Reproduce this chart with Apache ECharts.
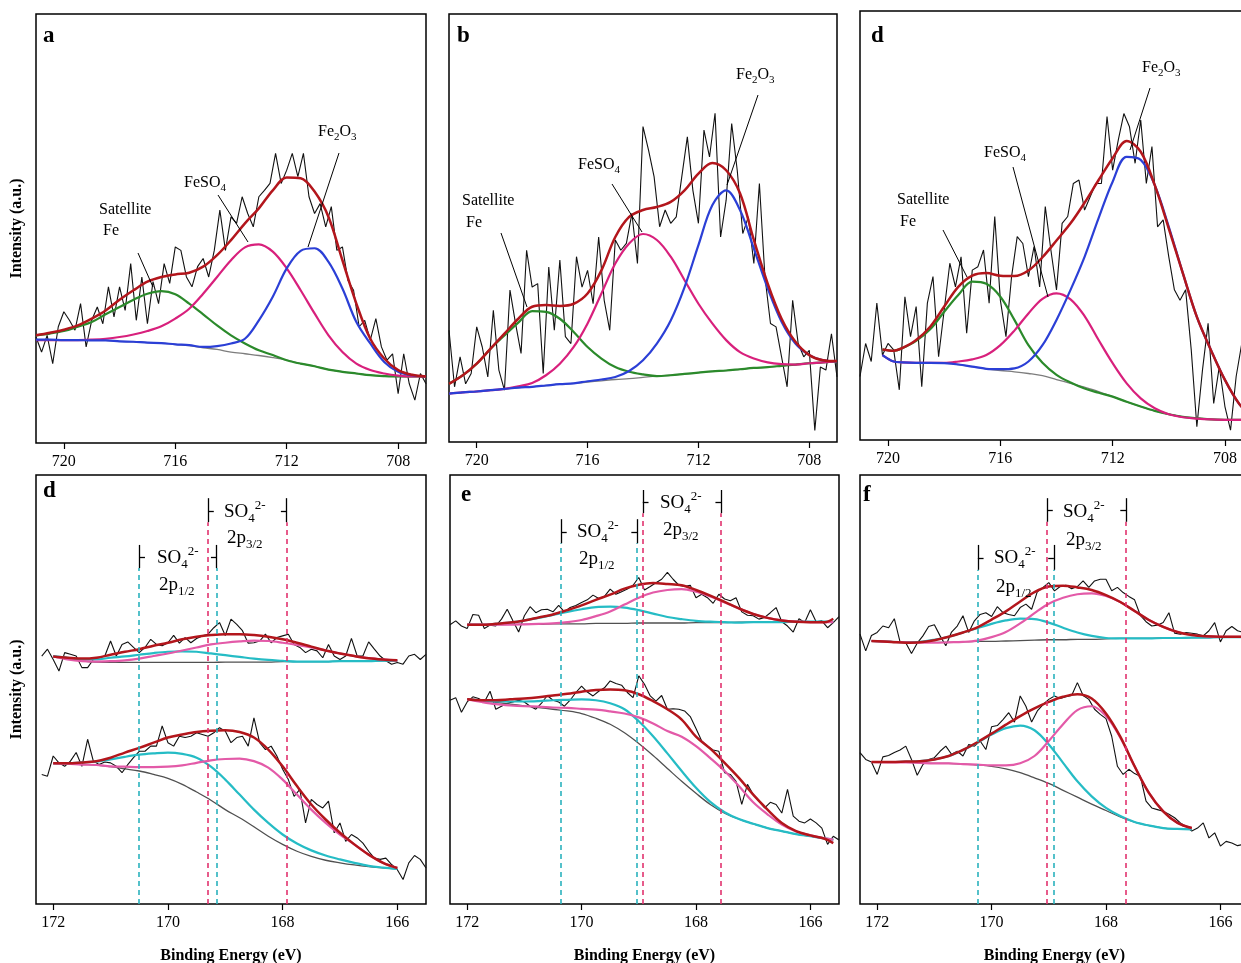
<!DOCTYPE html>
<html><head><meta charset="utf-8">
<script src="https://cdn.jsdelivr.net/npm/echarts@6/dist/echarts.min.js"></script>
<style>html,body{margin:0;padding:0;background:#fff}#c{width:1241px;height:963px}</style>
</head><body><div id="c"></div>
<script>
// ---------- energies (eV) ----------
const E_FE_RAW = [721,720.8,720.6,720.4,720.2,720,719.8,719.6,719.4,719.2,
719,718.8,718.6,718.4,718.2,718,717.8,717.6,717.4,717.2,
717,716.8,716.6,716.4,716.2,716,715.8,715.6,715.4,715.2,
715,714.8,714.6,714.4,714.2,714,713.8,713.6,713.4,713.2,
713,712.8,712.6,712.4,712.2,712,711.8,711.6,711.4,711.2,
711,710.8,710.6,710.4,710.2,710,709.8,709.6,709.4,709.2,
709,708.8,708.6,708.4,708.2,708,707.8,707.6,707.4,707.2,707];
const E_FE_FIT = [721,720.5,720,719.5,719,718.5,718,717.5,717,716.5,716,715.5,715,714.5,714,713.5,713,712.5,712,711.5,711,710.5,710,709.5,709,708.5,708,707.5,707];
const E_FE_FIT_D = [720.2,719.8,719.5,719,718.5,718,717.5,717,716.5,716,715.5,715,714.5,714,713.5,713,712.5,712,711.5,711,710.5,710,709.5,709,708.5,708,707.5,707];
const E_S_RAW_D = [172.2,172.1,172,171.9,171.8,171.7,171.6,171.5,171.4,171.3,
171.2,171.1,171,170.9,170.8,170.7,170.6,170.5,170.4,170.3,
170.2,170.1,170,169.9,169.8,169.7,169.6,169.5,169.4,169.3,
169.2,169.1,169,168.9,168.8,168.7,168.6,168.5,168.4,168.3,
168.2,168.1,168,167.9,167.8,167.7,167.6,167.5,167.4,167.3,
167.2,167.1,167,166.9,166.8,166.7,166.6,166.5,166.4,166.3,
166.2,166.1,166,165.9,165.8,165.7,165.6,165.5];
const E_S_RAW = [172.3,172.2,172.1,172,171.9,171.8,171.7,171.6,171.5,171.4,171.3,
171.2,171.1,171,170.9,170.8,170.7,170.6,170.5,170.4,170.3,
170.2,170.1,170,169.9,169.8,169.7,169.6,169.5,169.4,169.3,
169.2,169.1,169,168.9,168.8,168.7,168.6,168.5,168.4,168.3,
168.2,168.1,168,167.9,167.8,167.7,167.6,167.5,167.4,167.3,
167.2,167.1,167,166.9,166.8,166.7,166.6,166.5,166.4,166.3,
166.2,166.1,166,165.9,165.8,165.7,165.6,165.5];
const E_S_FIT_D = [172,171.75,171.5,171.25,171,170.75,170.5,170.25,170,169.75,169.5,169.25,169,168.75,168.5,168.25,168,167.75,167.5,167.25,167,166.75,166.5,166.25,166];
const E_S_FIT_E = [172,171.75,171.5,171.25,171,170.75,170.5,170.25,170,169.75,169.5,169.25,169,168.75,168.5,168.25,168,167.75,167.5,167.25,167,166.75,166.5,166.25,166,165.75,165.6];
const E_S_FIT_F = [172.1,171.75,171.5,171.25,171,170.75,170.5,170.25,170,169.75,169.5,169.25,169,168.75,168.5,168.25,168,167.75,167.5,167.25,167,166.75,166.5,166.25,166,165.75,165.5];

// ---------- tick labels ----------
const TICKS_FE = [708,712,716,720];
const TICKS_S = [166,168,170,172];

// ---------- panel a (Fe 2p) ----------
const rawA = [24.7,21.2,25.1,18.5,27.1,30.6,28.6,26.3,32.5,22.4,28.6,31.7,27.8,36.4,29.4,36.4,30.9,41.8,28.6,38.7,27.8,37.6,32.5,41.8,37.2,45.7,44.9,38.7,36.4,41.1,43.0,38.7,44.9,54.3,44.9,52.7,51.2,57.4,53.5,50.4,57.4,58.9,60.5,67.5,60.5,63.6,67.5,62.1,67.5,57.4,53.5,55.8,50.4,55.1,44.9,45.7,37.9,35.6,27.1,28.6,24.0,29.0,22.4,19.3,20.8,11.5,20.8,13.8,10.0,16.2,13.8];
const bgA = [24.1,24.1,24.0,24.0,23.9,23.9,23.7,23.6,23.4,23.3,23.0,22.7,22.2,21.8,21.2,20.8,20.4,19.9,19.3,18.5,17.9,17.1,16.6,16.2,15.8,15.6,15.5,15.5,15.5];
const satA = [25.1,25.5,26.1,27.1,28.2,30.0,31.7,33.4,34.8,35.4,34.7,32.5,30.0,27.4,25.1,23.2,21.6,20.5,19.3,18.5,17.9,17.1,16.6,16.2,15.8,15.6,15.5,15.5,15.5];
const feso4A = [24.0,24.0,24.0,24.0,24.1,24.3,24.7,25.3,26.1,27.2,29.0,31.3,34.8,38.7,42.6,45.6,46.3,44.6,40.7,35.6,30.2,25.1,21.2,18.5,17.0,16.2,15.7,15.5,15.5];
const fe2o3A = [24.1,24.1,24.0,24.0,23.9,23.9,23.7,23.6,23.4,23.3,23.0,22.8,22.4,22.6,23.2,24.3,28.6,34.1,40.7,44.8,45.4,42.2,36.0,28.2,23.2,18.9,16.6,15.8,15.5];
const envA = [25.1,25.7,26.4,27.4,29.0,30.9,33.4,35.6,37.6,38.7,39.3,39.7,41.1,43.8,47.3,51.2,54.7,58.9,61.9,61.7,58.6,52.7,42.6,32.5,24.3,19.7,17.0,15.9,15.5];

// ---------- panel b ----------
const rawB = [26.1,12.9,19.9,13.6,16.0,26.9,22.2,15.2,30.8,16.8,12.1,35.5,27.7,20.7,44.8,36.2,37.0,16.0,40.9,26.1,42.5,24.6,23.0,43.3,36.2,40.1,32.3,47.9,33.1,26.1,47.2,44.8,46.4,53.4,41.7,73.7,68.2,62.0,50.3,54.2,51.1,52.6,62.0,71.3,58.8,51.1,72.9,66.6,76.8,47.9,56.5,74.4,63.5,48.7,52.6,41.7,60.4,38.6,27.7,26.9,19.9,12.9,33.1,23.0,19.9,21.4,2.7,17.5,16.8,25.3,15.2];
const bgB = [11.3,11.6,11.8,12.1,12.4,12.7,12.9,13.2,13.5,13.7,14.0,14.3,14.6,14.8,15.1,15.4,15.6,15.9,16.2,16.5,16.7,17.0,17.3,17.5,17.8,18.1,18.4,18.6,18.9];
const satB = [13.6,15.6,18.3,21.8,24.9,27.9,30.6,30.4,28.8,25.7,22.2,19.5,17.5,16.4,15.8,15.4,15.6,15.9,16.2,16.5,16.7,17.0,17.3,17.5,17.8,18.1,18.4,18.6,18.9];
const feso4B = [11.3,11.6,11.8,12.1,12.4,13.0,13.8,15.6,18.3,22.2,27.7,34.7,41.7,46.4,48.6,47.2,43.3,37.8,32.3,27.7,23.8,21.0,19.5,18.6,18.2,18.1,18.4,18.6,18.9];
const fe2o3B = [11.3,11.6,11.8,12.1,12.4,12.7,12.9,13.2,13.5,13.7,14.2,14.6,15.2,16.6,19.1,23.0,28.4,36.2,46.0,55.3,58.8,54.2,45.2,35.9,28.1,23.0,20.3,19.1,18.9];
const envB = [13.6,15.6,18.3,21.8,25.3,28.8,31.6,32.0,31.8,32.3,34.7,40.1,47.9,52.6,54.2,54.9,56.1,58.8,62.7,65.2,63.5,58.1,47.2,37.0,28.8,23.4,20.3,19.1,18.9];

// ---------- panel d (top) ----------
const rawDT = [14.8,22.5,18.3,31.9,19.8,22.5,21.0,11.7,33.4,24.1,31.1,12.4,31.9,38.1,19.4,30.3,41.2,35.7,42.7,24.9,39.6,40.4,44.3,31.9,52.1,32.6,24.1,38.1,47.4,45.8,38.1,45.1,35.7,54.4,44.3,35.0,50.5,52.1,59.8,60.6,53.6,56.7,59.8,59.8,75.4,62.9,69.9,76.1,73.0,64.5,74.6,59.8,68.4,49.7,51.3,42.7,35.0,32.6,35.0,21.0,3.1,16.3,27.2,8.5,17.1,7.8,2.3,14.8,22.5,10.9,7.0];
const bgDT = [19.8,18.3,18.1,18.0,18.0,17.9,17.6,17.1,16.6,16.2,15.9,15.5,15.0,14.1,13.2,12.3,11.3,10.1,8.9,7.8,6.8,6.0,5.4,5.1,4.8,4.7,4.7,4.7];
const satDT = [21.1,20.8,21.4,23.1,25.8,29.9,33.8,36.9,36.4,33.4,28.0,22.1,18.0,15.2,13.4,12.0,11.0,10.1,8.9,7.8,6.8,6.0,5.4,5.1,4.8,4.7,4.7,4.7];
const feso4DT = [19.8,18.3,18.1,18.0,18.0,18.0,18.3,18.8,19.8,22.1,25.5,29.5,32.9,34.2,32.8,28.9,23.3,17.9,13.2,9.7,7.4,6.0,5.3,5.0,4.8,4.7,4.7,4.7];
const fe2o3DT = [19.8,18.3,18.1,18.0,18.0,17.9,17.6,17.1,16.6,16.5,16.7,18.3,22.1,28.0,35.0,42.7,51.7,60.2,66.0,65.3,59.4,49.7,38.9,28.7,21.0,14.0,8.5,5.1];
const envDT = [21.1,20.8,21.4,23.3,26.4,31.1,35.7,38.3,38.9,38.3,38.2,39.5,42.6,46.5,50.5,55.3,60.6,65.7,69.7,67.2,59.4,49.3,38.9,28.7,21.0,14.0,8.5,5.1];

// ---------- panel d (bottom, S 2p) ----------
const rawDu = [57.8,59.4,57.0,54.3,58.6,58.2,57.8,55.1,55.1,57.0,57.4,57.8,61.3,57.8,60.5,61.1,59.8,58.6,59.8,61.7,60.5,60.2,60.9,62.6,60.8,62.1,60.9,61.9,62.5,62.9,64.4,65.6,62.6,66.4,65.2,63.7,60.8,60.9,61.3,62.9,60.9,62.1,62.5,62.9,60.5,59.8,58.6,59.4,59.0,57.4,60.5,57.8,57.0,57.8,61.9,57.8,57.8,61.1,59.4,57.8,56.7,55.9,56.3,55.9,57.8,58.2,57.0,58.2];
const rawDl = [30.2,29.8,34.5,32.9,32.1,33.3,35.3,32.1,38.4,33.3,32.5,33.1,32.9,32.1,30.6,32.5,34.1,35.6,35.6,36.8,36.8,41.5,37.6,36.8,39.1,38.8,39.1,39.9,39.5,39.1,39.9,41.1,40.3,37.6,38.8,39.1,36.8,43.4,37.6,36.0,36.8,34.5,31.4,29.0,25.1,26.7,18.9,24.4,23.2,22.4,24.0,16.6,18.9,14.6,16.2,15.4,14.2,12.3,10.7,10.4,10.7,9.2,8.0,5.7,9.6,11.3,10.4,8.4];
const bgDu = [57.7,57.4,56.7,56.4,56.3,56.3,56.3,56.3,56.3,56.3,56.3,56.3,56.4,56.4,56.4,56.4,56.5,56.5,56.5,56.5,56.6,56.6,56.6,56.7,56.7];
const p12Du = [57.8,57.4,57.0,57.0,57.4,57.7,58.1,58.5,58.8,58.9,58.8,58.4,58.0,57.6,57.2,56.9,56.7,56.5,56.5,56.5,56.6,56.6,56.6,56.7,56.7];
const p32Du = [57.7,57.0,56.6,56.5,56.6,56.8,57.2,57.8,58.4,59.1,59.8,60.5,60.9,61.2,61.4,61.3,60.9,60.4,59.8,59.1,58.4,57.8,57.3,57.0,56.8];
const envDu = [57.7,57.4,57.2,57.4,58.1,58.8,59.4,60.2,60.9,61.7,62.3,62.7,62.9,62.9,62.7,62.3,61.7,60.9,60.0,59.1,58.4,57.8,57.3,57.0,56.8];
const bgDl = [32.8,32.7,32.5,32.4,32.0,31.5,31.0,30.2,29.3,27.9,26.1,24.2,22.0,20.1,18.0,15.8,13.9,12.3,11.1,10.2,9.6,9.1,8.7,8.4,8.2];
const p12Dl = [32.8,32.8,33.0,33.2,33.7,34.3,34.8,35.1,35.3,35.0,34.1,32.0,29.0,25.5,22.0,18.9,16.2,14.1,12.5,11.3,10.4,9.6,8.9,8.5,8.2];
const p32Dl = [32.8,32.7,32.5,32.4,32.1,32.0,31.9,31.9,32.0,32.3,32.9,33.5,33.8,33.9,33.3,31.8,29.0,25.5,22.0,18.9,16.2,13.9,11.5,9.6,8.4];
const envDl = [32.8,32.8,33.0,33.3,34.1,35.3,36.4,37.6,38.8,39.5,40.1,40.4,40.5,40.1,38.8,36.0,32.1,27.5,23.2,19.7,16.6,13.9,11.5,9.6,8.4];

// ---------- panel e ----------
const rawEu = [65.1,66.0,64.8,64.2,67.5,67.3,64.2,65.0,64.8,66.4,68.7,66.0,63.4,67.2,69.3,67.9,68.6,68.7,68.1,69.6,68.1,69.1,69.6,70.3,70.9,72.0,71.2,71.7,73.4,72.2,72.8,73.4,74.3,76.1,73.2,74.0,74.9,75.7,77.3,75.7,74.3,74.0,74.3,71.4,72.2,71.4,70.1,72.2,71.1,70.7,71.4,68.1,67.3,67.2,66.4,66.8,67.9,69.1,65.8,64.8,63.4,66.5,65.6,68.6,65.8,66.0,64.4,65.6,67.0];
const rawEl = [47.5,48.1,44.7,47.1,48.3,47.9,47.1,49.6,45.4,46.1,46.8,47.1,47.5,47.1,46.1,45.4,46.8,48.6,47.5,47.1,46.1,47.5,49.3,50.8,49.4,48.5,49.6,50.4,52.0,51.4,51.0,49.3,48.1,53.2,51.2,48.5,47.3,48.6,45.4,45.5,45.4,45.0,43.7,40.9,38.0,36.8,35.9,35.6,30.6,30.2,28.6,23.2,27.9,25.5,24.0,22.4,23.7,23.2,21.2,26.7,20.5,19.3,18.9,19.8,18.9,17.7,13.9,15.8,14.9];
const bgEu = [65.1,65.1,65.1,65.2,65.2,65.2,65.3,65.3,65.3,65.4,65.4,65.4,65.5,65.5,65.5,65.5,65.6,65.6,65.6,65.7,65.7,65.7,65.7,65.8,65.8,65.8,65.8];
const p12Eu = [65.1,65.1,65.3,65.6,66.1,66.7,67.4,68.1,68.7,69.2,69.3,69.1,68.5,67.7,66.9,66.4,66.0,65.8,65.7,65.6,65.7,65.7,65.7,65.8,65.8,65.8,65.8];
const p32Eu = [65.1,65.1,65.1,65.1,65.2,65.3,65.4,65.7,66.2,67.1,68.2,69.8,71.4,72.6,73.2,73.4,72.8,71.7,70.3,68.9,67.6,66.7,66.1,65.8,65.7,65.7,65.7];
const envEu = [65.1,65.1,65.3,65.6,66.1,66.8,67.5,68.5,69.6,70.9,72.1,73.5,74.4,74.8,74.6,74.3,73.2,71.9,70.4,68.9,67.6,66.7,66.1,65.8,65.7,65.7,66.5];
const bgEl = [47.7,47.3,47.0,46.6,46.2,45.8,45.4,45.0,44.4,43.3,41.9,39.9,37.4,34.6,31.6,28.6,25.8,23.2,21.2,19.8,18.7,17.7,17.0,16.3,15.8,15.3,15.0];
const p12El = [47.7,47.5,47.2,47.2,47.2,47.3,47.5,47.6,47.7,47.5,46.8,45.4,42.6,39.1,35.1,31.0,27.1,23.8,21.4,19.8,18.7,17.7,17.0,16.3,15.8,15.3,15.0];
const p32El = [47.7,47.1,46.6,46.3,46.1,46.0,45.8,45.7,45.5,45.3,44.9,44.4,43.5,42.1,40.3,39.0,36.8,34.0,31.0,27.5,23.7,20.9,18.5,16.9,16.0,15.3,15.0];
const envEl = [47.7,47.5,47.5,47.7,47.9,48.2,48.6,49.0,49.5,49.9,50.0,49.8,48.9,47.3,45.4,43.0,39.0,36.2,32.9,29.4,25.5,22.0,18.9,17.0,16.0,15.2,14.2];

// ---------- panel f ----------
const rawFu = [62.9,59.0,62.6,63.3,64.8,64.4,66.5,61.1,60.9,58.4,60.8,62.5,64.7,65.1,62.5,60.2,63.4,64.8,67.2,63.3,66.0,67.5,67.9,67.0,69.3,67.9,67.5,67.2,69.1,69.9,68.7,72.8,73.8,74.9,73.0,74.0,74.3,73.5,74.0,75.3,73.8,75.3,75.7,75.7,73.0,73.8,72.6,71.7,70.9,67.3,65.8,64.8,65.0,65.6,67.9,63.1,62.9,63.3,63.1,62.9,62.5,63.7,65.6,61.1,63.7,64.7,63.7,63.3,62.5];
const rawFl = [35.3,33.7,33.1,30.2,34.3,34.6,35.3,35.9,36.8,33.7,30.0,32.5,33.7,34.1,35.6,36.8,34.9,35.6,34.5,37.2,36.8,38.0,36.0,41.3,41.6,43.0,44.6,42.4,48.5,46.1,42.4,45.0,46.5,47.7,48.5,47.9,48.3,48.6,51.6,48.6,47.7,45.4,44.2,43.2,39.1,32.1,30.2,31.4,30.4,29.8,24.0,22.4,22.0,21.6,20.9,20.1,18.9,18.1,17.0,17.7,18.9,15.4,16.6,13.5,14.6,14.2,13.6,13.9,14.1];
const bgFu = [61.3,61.2,61.1,61.0,61.0,61.0,61.1,61.2,61.2,61.3,61.4,61.5,61.6,61.6,61.7,61.7,61.8,61.9,61.9,61.9,62.0,62.0,62.1,62.1,62.2,62.2,62.3];
const p12Fu = [61.3,61.1,61.0,61.1,61.6,62.3,63.3,64.3,65.3,66.1,66.5,66.4,65.6,64.4,63.3,62.5,62.0,61.9,61.9,61.9,62.0,62.0,62.1,62.1,62.2,62.2,62.3];
const p32Fu = [61.3,61.1,61.0,60.9,60.9,61.0,61.1,61.4,62.2,63.4,65.4,67.8,70.0,71.4,72.2,72.4,71.8,70.4,68.3,66.2,64.6,63.4,62.7,62.4,62.3,62.3,62.3];
const envFu = [61.3,61.1,60.9,61.0,61.5,62.3,63.3,64.5,66.3,68.2,70.5,72.7,74.0,74.2,73.8,73.2,72.0,70.4,68.3,66.2,64.6,63.4,62.7,62.4,62.3,62.3,62.3];
const bgFl = [33.1,33.0,33.0,32.9,32.8,32.8,32.6,32.4,32.1,31.5,30.6,29.4,28.1,26.5,24.9,23.3,21.8,20.3,19.1,18.3,17.7,17.5,17.4,null,null,null,null];
const p12Fl = [33.1,33.1,33.2,33.3,33.7,34.5,35.9,37.6,39.5,41.0,41.6,40.5,37.2,32.9,28.6,25.1,22.4,20.5,19.1,18.3,17.7,17.5,17.4,null,null,null,null];
const p32Fl = [33.1,33.0,33.0,32.9,32.8,32.8,32.6,32.5,32.3,32.3,32.8,34.5,38.0,41.9,45.2,46.1,43.8,38.8,32.1,25.9,21.6,18.9,17.7,null,null,null,null];
const envFl = [33.1,33.1,33.2,33.3,33.7,34.5,35.9,37.7,39.7,41.8,43.8,45.6,47.1,48.3,48.9,47.9,44.4,39.0,32.1,25.9,21.6,18.9,17.7,null,null,null,null];

// ---------- SO4 2- peak marker positions (eV): [2p1/2 left, 2p1/2 right, 2p3/2 left, 2p3/2 right] ----------
const PEAKS_D = [170.50,169.15,169.30,167.93];
const PEAKS_E = [170.36,169.03,168.93,167.56];
const PEAKS_F = [170.24,168.91,169.03,167.65];
// bracket heights (intensity units): [1/2 bottom, 1/2 top, 1/2 tick, 3/2 bottom, 3/2 top, 3/2 tick]
const BR_D = [78.3,83.7,80.9,89.0,94.6,91.6];
const BR_E = [84.1,89.7,86.7,91.1,96.5,93.7];
const BR_F = [77.9,83.7,80.7,89.1,94.6,91.7];

// ================== build ==================
const FONT = 'Liberation Serif';
const C = {raw:'#111111', bgFe:'#7d7d7d', green:'#2b8a2b', mag:'#d8207c', blue:'#2b3fd6', red:'#b3161c',
  bgS:'#505050', cyan:'#25bcc5', pink:'#e35aa8', dCyan:'#2bb2bd', dPink:'#e2336f'};

function pts(E, V){ const o=[]; for(let i=0;i<E.length;i++){ if(V[i]!==null && V[i]!==undefined) o.push([E[i],V[i]]); } return o; }
function ln(g, E, V, color, w, smooth){
  return {type:'line', xAxisIndex:g, yAxisIndex:g, data:pts(E,V), symbol:'none', showSymbol:false,
    smooth: smooth ? 0.35 : false, lineStyle:{color:color, width:w}, itemStyle:{color:color},
    silent:true, animation:false, emphasis:{disabled:true}};
}
function bracketData(P, B){
  const out = [];
  function add(E, vb, vt, vk, dir, col){
    out.push([{coord:[E,0], lineStyle:{color:col, type:[5,4], width:1.6}}, {coord:[E,vb], lineStyle:{color:col, type:[5,4], width:1.6}}]);
    out.push([{coord:[E,vb], lineStyle:{color:'#000', type:'solid', width:1.3}}, {coord:[E,vt], lineStyle:{color:'#000', type:'solid', width:1.3}}]);
    out.push([{coord:[E,vk], lineStyle:{color:'#000', type:'solid', width:1.3}}, {coord:[E+dir*0.1,vk], lineStyle:{color:'#000', type:'solid', width:1.3}}]);
  }
  add(P[0], B[0], B[1], B[2], -1, C.dCyan);
  add(P[1], B[0], B[1], B[2], 1, C.dCyan);
  add(P[2], B[3], B[4], B[5], -1, C.dPink);
  add(P[3], B[3], B[4], B[5], 1, C.dPink);
  return out;
}
function markSeries(g, P, B){
  return {type:'line', xAxisIndex:g, yAxisIndex:g, data:[], symbol:'none', silent:true, animation:false,
    markLine:{silent:true, symbol:['none','none'], label:{show:false}, animation:false, emphasis:{disabled:true}, data:bracketData(P,B)}};
}

const gridBase = {show:true, borderColor:'#000', borderWidth:1.5, backgroundColor:'transparent', containLabel:false, outerBoundsMode:'none'};
const grids = [
  Object.assign({left:36, top:14, width:390, height:429}, gridBase),
  Object.assign({left:449, top:14, width:388, height:428}, gridBase),
  Object.assign({left:860, top:11, width:393, height:429}, gridBase),
  Object.assign({left:36, top:475, width:390, height:429}, gridBase),
  Object.assign({left:450, top:475, width:389, height:429}, gridBase),
  Object.assign({left:860, top:475, width:389, height:429}, gridBase)
];

function mkX(g, min, max, ticks, name){
  return {type:'value', gridIndex:g, min:min, max:max, inverse:true,
    axisLine:{show:false}, splitLine:{show:false},
    axisTick:{show:true, customValues:ticks, length:6, inside:false, lineStyle:{color:'#000', width:1.2}},
    axisLabel:{show:true, customValues:ticks, color:'#000', fontFamily:FONT, fontSize:16, margin:11},
    name:name||'', nameLocation:'middle', nameGap:44,
    nameTextStyle:{color:'#000', fontFamily:FONT, fontSize:16, fontWeight:'bold'}};
}
function mkY(g, name){
  return {type:'value', gridIndex:g, min:0, max:100,
    axisLine:{show:false}, axisTick:{show:false}, axisLabel:{show:false}, splitLine:{show:false},
    name:name||'', nameLocation:'middle', nameGap:11, nameRotate:90,
    nameTextStyle:{color:'#000', fontFamily:FONT, fontSize:16, fontWeight:'bold'}};
}

const xAxes = [
  mkX(0, 707, 721, TICKS_FE), mkX(1, 707, 721, TICKS_FE), mkX(2, 707, 721, TICKS_FE),
  mkX(3, 165.5, 172.3, TICKS_S, 'Binding Energy (eV)'),
  mkX(4, 165.5, 172.3, TICKS_S, 'Binding Energy (eV)'),
  mkX(5, 165.5, 172.3, TICKS_S, 'Binding Energy (eV)')
];
const yAxes = [mkY(0,'Intensity (a.u.)'), mkY(1), mkY(2), mkY(3,'Intensity (a.u.)'), mkY(4), mkY(5)];

const series = [];
function fePanel(g, E, raw, bg, sat, feso4, fe2o3, env){
  series.push(ln(g, E_FE_RAW, raw, C.raw, 1.1, false));
  series.push(ln(g, E, bg, C.bgFe, 1.3, true));
  series.push(ln(g, E, sat, C.green, 2.2, true));
  series.push(ln(g, E, feso4, C.mag, 2.2, true));
  series.push(ln(g, E, fe2o3, C.blue, 2.2, true));
  series.push(ln(g, E, env, C.red, 2.5, true));
}
fePanel(0, E_FE_FIT, rawA, bgA, satA, feso4A, fe2o3A, envA);
fePanel(1, E_FE_FIT, rawB, bgB, satB, feso4B, fe2o3B, envB);
fePanel(2, E_FE_FIT_D, rawDT, bgDT, satDT, feso4DT, fe2o3DT, envDT);

function sPanel(g, Eraw, Efit, ru, rl, bu, bl, cu, cl, pu, pl, eu, el, P, B){
  series.push(ln(g, Eraw, ru, C.raw, 1.1, false));
  series.push(ln(g, Eraw, rl, C.raw, 1.1, false));
  series.push(ln(g, Efit, bu, C.bgS, 1.3, true));
  series.push(ln(g, Efit, bl, C.bgS, 1.3, true));
  series.push(ln(g, Efit, cu, C.cyan, 2.2, true));
  series.push(ln(g, Efit, cl, C.cyan, 2.2, true));
  series.push(ln(g, Efit, pu, C.pink, 2.2, true));
  series.push(ln(g, Efit, pl, C.pink, 2.2, true));
  series.push(ln(g, Efit, eu, C.red, 2.5, true));
  series.push(ln(g, Efit, el, C.red, 2.5, true));
  series.push(markSeries(g, P, B));
}
sPanel(3, E_S_RAW_D, E_S_FIT_D, rawDu, rawDl, bgDu, bgDl, p12Du, p12Dl, p32Du, p32Dl, envDu, envDl, PEAKS_D, BR_D);
sPanel(4, E_S_RAW, E_S_FIT_E, rawEu, rawEl, bgEu, bgEl, p12Eu, p12El, p32Eu, p32El, envEu, envEl, PEAKS_E, BR_E);
sPanel(5, E_S_RAW, E_S_FIT_F, rawFu, rawFl, bgFu, bgFl, p12Fu, p12Fl, p32Fu, p32Fl, envFu, envFl, PEAKS_F, BR_F);

// ---------- annotations ----------
const RT = {m:{fontSize:16, fontFamily:FONT, fill:'#000', lineHeight:22},
            s:{fontSize:11, fontFamily:FONT, fill:'#000', lineHeight:12, verticalAlign:'bottom'}};
const RB = {m:{fontSize:19, fontFamily:FONT, fill:'#000', lineHeight:26},
            s:{fontSize:13, fontFamily:FONT, fill:'#000', lineHeight:13, verticalAlign:'bottom'},
            p:{fontSize:13, fontFamily:FONT, fill:'#000', lineHeight:13, verticalAlign:'top'}};
function txt(x, y, t, rich){ return {type:'text', x:x, y:y, z:100, silent:true,
  style:{text:t, rich:rich, align:'left', verticalAlign:'middle', fill:'#000', fontFamily:FONT, fontSize:16}}; }
function plain(x, y, t){ return {type:'text', x:x, y:y, z:100, silent:true,
  style:{text:t, align:'left', verticalAlign:'middle', fill:'#000', fontFamily:FONT, fontSize:16}}; }
function seg(x1, y1, x2, y2){ return {type:'line', z:100, silent:true, shape:{x1:x1, y1:y1, x2:x2, y2:y2}, style:{stroke:'#000', lineWidth:1}}; }
function letter(x, y, t){ return {type:'text', x:x, y:y, z:100, silent:true,
  style:{text:t, fontFamily:FONT, fontSize:23, fontWeight:'bold', fill:'#000', align:'left', verticalAlign:'middle'}}; }

const FE2O3 = '{m|Fe}{s|2}{m|O}{s|3}';
const FESO4 = '{m|FeSO}{s|4}';
const SO4 = '{m|SO}{s|4}{p|2-}';
const P12 = '{m|2p}{s|1/2}';
const P32 = '{m|2p}{s|3/2}';

const G = [
  letter(43, 36, 'a'), letter(457, 36, 'b'), letter(871, 36, 'd'),
  letter(43, 491, 'd'), letter(461, 495, 'e'), letter(863, 495, 'f'),
  // a
  txt(318, 132, FE2O3, RT), seg(339, 153, 308, 247),
  txt(184, 183, FESO4, RT), seg(218, 195, 248, 242),
  plain(99, 210, 'Satellite'), plain(103, 231, 'Fe'), seg(138, 253, 153, 287),
  // b
  txt(736, 75, FE2O3, RT), seg(758, 95, 727, 185),
  txt(578, 165, FESO4, RT), seg(612, 184, 642, 232),
  plain(462, 201, 'Satellite'), plain(466, 223, 'Fe'), seg(501, 233, 527, 307),
  // d top
  txt(1142, 68, FE2O3, RT), seg(1150, 88, 1130, 150),
  txt(984, 153, FESO4, RT), seg(1013, 167, 1048, 297),
  plain(897, 200, 'Satellite'), plain(900, 222, 'Fe'), seg(943, 230, 967, 277),
  // d bottom
  txt(224, 512, SO4, RB), txt(227, 538, P32, RB),
  txt(157, 558, SO4, RB), txt(159, 585, P12, RB),
  // e
  txt(660, 503, SO4, RB), txt(663, 530, P32, RB),
  txt(577, 532, SO4, RB), txt(579, 559, P12, RB),
  // f
  txt(1063, 512, SO4, RB), txt(1066, 540, P32, RB),
  txt(994, 558, SO4, RB), txt(996, 587, P12, RB)
];

const chart = echarts.init(document.getElementById('c'), null, {renderer:'canvas', width:1241, height:963});
chart.setOption({
  animation:false,
  backgroundColor:'#ffffff',
  grid:grids, xAxis:xAxes, yAxis:yAxes, series:series,
  graphic:{elements:G}
});
</script></body></html>
